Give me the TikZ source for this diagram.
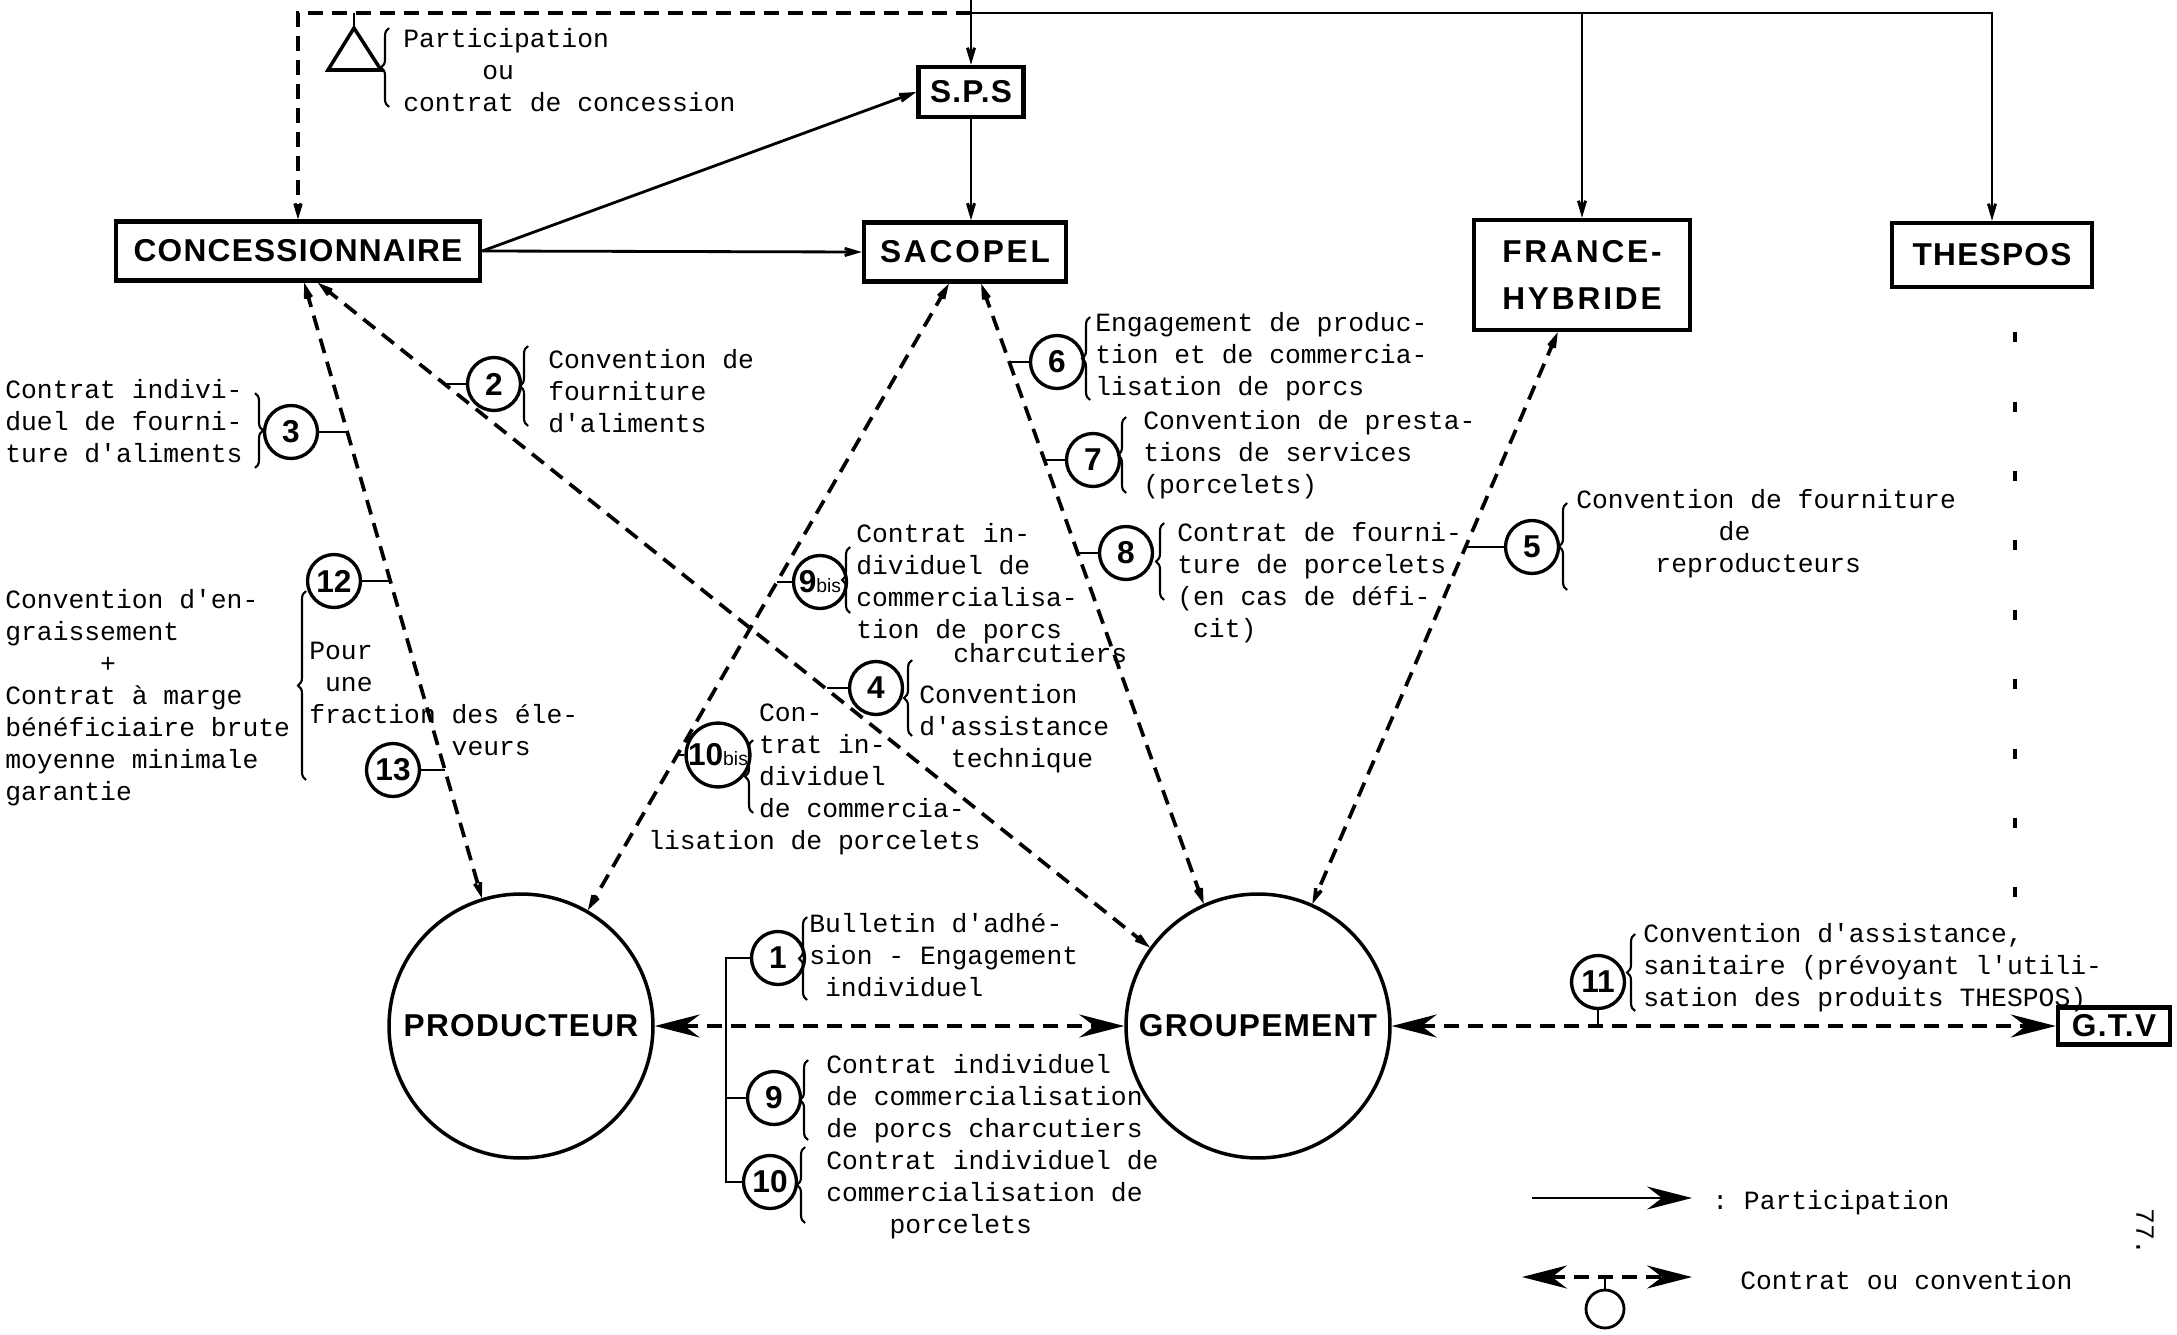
\documentclass[tikz,border=0pt]{standalone}
\usepackage{fontspec}
\setmainfont{Liberation Serif}
\setmonofont{Liberation Mono}
\newfontfamily\boxfont[LetterSpace=4]{Liberation Sans}
\newfontfamily\boxwide[LetterSpace=9]{Liberation Sans}
\newfontfamily\numfont{Liberation Sans}
\usetikzlibrary{arrows.meta,decorations.pathreplacing,calc}

\begin{document}
\begin{tikzpicture}[x=0.02cm, y=-0.02cm,
    org/.style={draw, line width=2.6pt, inner sep=0pt, font=\boxfont\bfseries\fontsize{18}{27}\selectfont},
    actor/.style={draw, circle, line width=2pt, minimum size=5.28cm, inner sep=0pt, font=\boxfont\bfseries\fontsize{18}{22}\selectfont},
    numc/.style={draw, circle, line width=1.9pt, minimum size=1.06cm, inner sep=0pt, font=\numfont\bfseries\fontsize{18}{18}\selectfont},
    txt/.style={anchor=west, align=left, inner sep=0pt, font=\ttfamily\fontsize{15}{18.2}\selectfont},
    part/.style={line width=1.6pt, -{Stealth[length=0.7cm, width=0.42cm, inset=0.45cm]}},
    contract/.style={line width=2.1pt, dash pattern=on 0.3cm off 0.18cm},
    dtip/.tip={Stealth[length=0.68cm, width=0.42cm, inset=0.42cm]},
    htip/.tip={Stealth[length=0.9cm, width=0.46cm, inset=0.3cm]},
    link/.style={line width=1.4pt},
    accol/.style={decorate, decoration={brace, amplitude=0.16cm}, line width=1.2pt}]

    \useasboundingbox (0,0) rectangle (2177,1335);

    % Organismes
    \node[org, minimum width=7.28cm, minimum height=1.18cm] (conc) at (298,251) {CONCESSIONNAIRE};
    \node[org, minimum width=2.1cm, minimum height=1cm] (sps) at (971,92) {S.P.S};
    \node[org, font=\boxwide\bfseries\fontsize{18}{27}\selectfont, minimum width=4.04cm, minimum height=1.18cm] (sac) at (965,252) {SACOPEL};
    \node[org, font=\boxwide\bfseries\fontsize{18}{27}\selectfont, align=center, minimum width=4.32cm, minimum height=2.2cm] (fh) at (1582,275) {FRANCE-\\HYBRIDE};
    \node[org, minimum width=4cm, minimum height=1.28cm] (thes) at (1992,255) {THESPOS};
    \node[org, minimum width=2.24cm, minimum height=0.74cm] (gtv) at (2114,1026) {G.T.V};
    \node[actor] (prod) at (521,1026) {PRODUCTEUR};
    \node[actor] (grp) at (1258,1026) {GROUPEMENT};

    % Participations
    \coordinate (feed) at (971,0);
    \coordinate (j) at (971,13);
    \draw[part] (feed) -- (sps.north);
    \draw[part] (sps.south) -- (sps.south |- sac.north);
    \draw[part] (j) -| (thes.north);
    \draw[part] (j -| fh.north) -- (fh.north);
    \draw[part] (conc.east) -- (sps.west);
    \draw[part] (conc.east) -- (sac.west);

    % Participation ou contrat de concession
    \draw[contract, -dtip] (j) -| (conc.north);
    \coordinate (tri) at (354,28);
    \draw[link] (tri) -- (tri |- j);
    \draw[line width=2pt] (tri) -- ++(-26,42) -- ++(53,0) -- cycle;
    \draw[accol] (389,107) -- (389,28);
    \node[txt] (tpart) at (403,70) {Participation\\\phantom{00000}ou\\contrat de concession};

    % Contrats et conventions
    \draw[contract, dtip-dtip] (conc.-79) -- (prod.107)
        coordinate[pos=0.2436] (l3) coordinate[pos=0.484] (l12) coordinate[pos=0.792] (l13);
    \draw[contract, dtip-dtip] (conc.-58) -- (grp.144)
        coordinate[pos=0.1548] (l2) coordinate[pos=0.6117] (l4);
    \draw[contract, dtip-dtip] (sac.-117) -- (prod.60)
        coordinate[pos=0.477] (l9b) coordinate[pos=0.75] (l10b);
    \draw[contract, dtip-dtip] (sac.-63) -- (grp.114)
        coordinate[pos=0.1287] (l6) coordinate[pos=0.2865] (l7) coordinate[pos=0.436] (l8);
    \draw[contract, dtip-dtip] (fh.-113) -- (grp.66) coordinate[pos=0.378] (l5);
    \draw[contract, htip-htip] (prod) -- (grp);
    \draw[contract, htip-htip] (grp) -- (gtv) coordinate[pos=0.311] (l11);
    \draw[line width=1.8pt, dash pattern=on 0.2cm off 1.188cm, dash phase=0.528cm]
        ([xshift=0.46cm]thes.south) -- ++(0,608);

    % Numeros
    \node[numc] (c1) at (778,958) {1};
    \node[numc] (c2) at (494,384) {2};
    \node[numc] (c3) at (291,432) {3};
    \node[numc] (c4) at (876,688) {4};
    \node[numc] (c5) at (1532,547) {5};
    \node[numc] (c6) at (1057,362) {6};
    \node[numc] (c7) at (1093,460) {7};
    \node[numc] (c8) at (1126,553) {8};
    \node[numc] (c9b) at (820,582) {9{\mdseries\fontsize{11}{11}\selectfont bis}};
    \node[numc] (c9) at (774,1098) {9};
    \node[numc] (c10) at (770,1182) {10};
    \node[numc] (c10b) at (718,755) {10{\mdseries\fontsize{11}{11}\selectfont bis}};
    \node[numc] (c11) at (1598,982) {11};
    \node[numc] (c12) at (334,581) {12};
    \node[numc] (c13) at (393,770) {13};

    \draw[link] (c2.west) -- (c2.west -| l2);
    \draw[link] (c3.east) -- (c3.east -| l3);
    \draw[link] (c12.east) -- (c12.east -| l12);
    \draw[link] (c13.east) -- (c13.east -| l13);
    \draw[link] (c4.west) -- (c4.west -| l4);
    \draw[link] (c9b.west) -- (c9b.west -| l9b);
    \draw[link] (c10b.west) -- (c10b.west -| l10b);
    \draw[link] (c6.west) -- (c6.west -| l6);
    \draw[link] (c7.west) -- (c7.west -| l7);
    \draw[link] (c8.west) -- (c8.west -| l8);
    \draw[link] (c5.west) -- (c5.west -| l5);
    \draw[link] (c11.south) -- (c11.south |- l11);
    \coordinate (bar) at (726,0);
    \draw[link] (c1.west) -- (c1.west -| bar) |- (c10.west);
    \draw[link] (c9.west) -- (c9.west -| bar);

    % Accolades
    \draw[accol] (528,426) -- (528,346);
    \draw[accol] (255,393) -- (255,468);
    \draw[accol] (306,780) -- (306,591);
    \draw[accol] (1090,400) -- (1090,317);
    \draw[accol] (1126,493) -- (1126,417);
    \draw[accol] (1164,600) -- (1164,523);
    \draw[accol] (850,613) -- (850,547);
    \draw[accol] (912,736) -- (912,660);
    \draw[accol] (753,813) -- (753,740);
    \draw[accol] (807,1000) -- (807,917);
    \draw[accol] (808,1140) -- (808,1060);
    \draw[accol] (805,1223) -- (805,1147);
    \draw[accol] (1567,590) -- (1567,503);
    \draw[accol] (1635,1011) -- (1635,934);

    % Textes
    \node[txt] (t2) at (548,391) {Convention de\\fourniture\\d'aliments};
    \node[txt] (t3) at (5,421) {Contrat indivi-\\duel de fourni-\\ture d'aliments};
    \node[txt] (t12) at (5,698) {Convention d'en-\\graissement\\\phantom{000000}+\\Contrat à marge\\bénéficiaire brute\\moyenne minimale\\garantie};
    \node[txt] (tpour) at (309,699) {Pour\\\phantom{0}une\\fraction des éle-\\\phantom{000000000}veurs};
    \node[txt] (t6) at (1095,357) {Engagement de produc-\\tion et de commercia-\\lisation de porcs};
    \node[txt] (t7) at (1143,455) {Convention de presta-\\tions de services\\(porcelets)};
    \node[txt] (t8) at (1177,583) {Contrat de fourni-\\ture de porcelets\\(en cas de défi-\\\phantom{0}cit)};
    \node[txt] (t9b) at (856,584) {Contrat in-\\dividuel de\\commercialisa-\\tion de porcs};
    \node[txt] (t9bb) at (953,653) {charcutiers};
    \node[txt] (t4) at (919,729) {Convention\\d'assistance\\\phantom{00}technique};
    \node[txt] (t10b) at (648,779) {\phantom{0000000}Con-\\\phantom{0000000}trat in-\\\phantom{0000000}dividuel\\\phantom{0000000}de commercia-\\lisation de porcelets};
    \node[txt] (t1) at (809,955) {Bulletin d'adhé-\\sion - Engagement\\\phantom{0}individuel};
    \node[txt] (t9) at (826,1099) {Contrat individuel\\de commercialisation\\de porcs charcutiers};
    \node[txt] (t10) at (826,1195) {Contrat individuel de\\commercialisation de\\\phantom{0000}porcelets};
    \node[txt] (t5) at (1576,534) {Convention de fourniture\\\phantom{000000000}de\\\phantom{00000}reproducteurs};
    \node[txt] (t11) at (1643,968) {Convention d'assistance,\\sanitaire (prévoyant l'utili-\\sation des produits THESPOS)};

    % Legende
    \coordinate (lgA) at (1532,1198);
    \coordinate (lgB) at (1692,1198);
    \draw[line width=1.6pt, -htip] (lgA) -- (lgB);
    \node[txt] (lgP) at (1712,1203) {: Participation};
    \coordinate (lgC) at (1522,1277);
    \coordinate (lgD) at (1692,1277);
    \draw[contract, htip-htip] (lgC) -- (lgD) coordinate[pos=0.465] (lgE);
    \node[draw, circle, line width=1.6pt, minimum size=0.76cm, inner sep=0pt] (lgO) at (1605,1309) {};
    \draw[link] (lgO.north) -- (lgO.north |- lgE);
    \node[txt] (lgT) at (1740,1280) {Contrat ou convention};
    \node[txt, anchor=center, rotate=-90] (page) at (2145,1232) {77.};
\end{tikzpicture}
\end{document}
